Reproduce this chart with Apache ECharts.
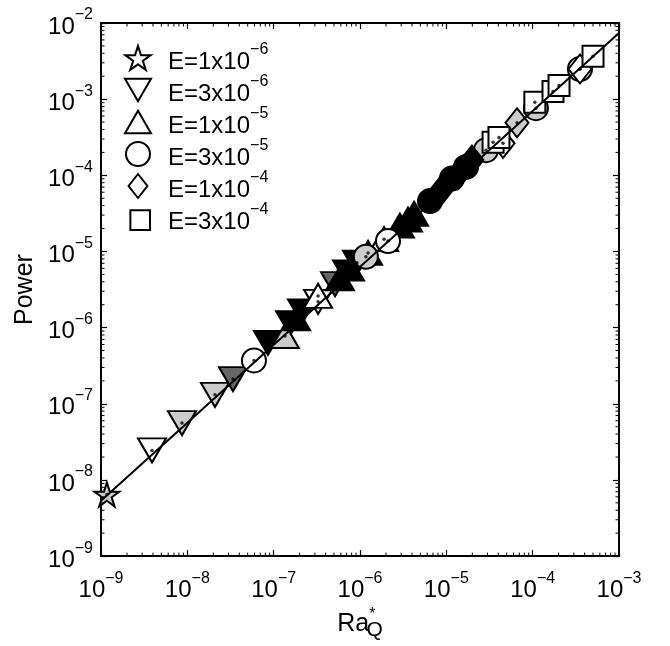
<!DOCTYPE html>
<html><head><meta charset="utf-8">
<script src="https://cdn.jsdelivr.net/npm/echarts@6/dist/echarts.min.js"></script>
<style>html,body{margin:0;padding:0;background:#fff}#c{width:670px;height:646px}</style>
</head><body><div id="c"></div>
<script>
// ---- tick labels (exponents of 10) ----
const xTickExps = [-9, -8, -7, -6, -5, -4, -3];
const yTickExps = [-9, -8, -7, -6, -5, -4, -3, -2];

// ---- legend labels ----
const legendMant = ['1', '3', '1', '3', '1', '3'];
const legendExp = ['−6', '−6', '−5', '−5', '−4', '−4'];

// ---- fill codes: w = white, l = light grey, d = dark grey, k = black ----
// E = 1x10^-6 (pentagram)
const e1e6X = [1.17e-9];
const e1e6Y = [6.44e-9];
const e1e6F = ['l'];
// E = 3x10^-6 (down triangle)
const e3e6X = [3.90e-9, 8.67e-9, 2.09e-8, 3.38e-8, 8.59e-8, 1.55e-7, 2.13e-7, 3.27e-7, 5.14e-7, 7.08e-7, 9.22e-7];
const e3e6Y = [2.44e-8, 5.58e-8, 1.31e-7, 2.11e-7, 6.31e-7, 1.14e-6, 1.63e-6, 2.18e-6, 3.72e-6, 5.31e-6, 7.13e-6];
const e3e6F = ['w', 'l', 'l', 'd', 'k', 'k', 'k', 'w', 'd', 'k', 'k'];
// E = 1x10^-5 (up triangle)
const e1e5X = [1.35e-7, 1.82e-7, 3.27e-7, 5.86e-7, 7.66e-7, 1.24e-6, 1.90e-6, 2.90e-6, 3.60e-6, 4.23e-6];
const e1e5Y = [7.76e-7, 1.32e-6, 2.61e-6, 4.45e-6, 5.97e-6, 9.57e-6, 1.45e-5, 2.19e-5, 2.62e-5, 3.13e-5];
const e1e5F = ['l', 'k', 'w', 'k', 'k', 'k', 'w', 'k', 'k', 'k'];
// E = 3x10^-5 (circle)
const e3e5X = [5.91e-8, 1.17e-6, 2.11e-6, 6.47e-6, 1.16e-5, 1.69e-5, 2.88e-5, 1.09e-4, 3.53e-4];
const e3e5Y = [3.71e-7, 8.51e-6, 1.37e-5, 4.59e-5, 9.08e-5, 1.29e-4, 2.14e-4, 7.62e-4, 2.49e-3];
const e3e5F = ['w', 'l', 'w', 'k', 'k', 'k', 'l', 'l', 'w'];
// E = 1x10^-4 (diamond)
const e1e4X = [8.91e-6, 1.36e-5, 1.98e-5, 4.54e-5, 6.59e-5, 3.53e-4];
const e1e4Y = [6.55e-5, 1.02e-4, 1.59e-4, 2.63e-4, 4.90e-4, 2.49e-3];
const e1e4F = ['k', 'k', 'k', 'w', 'l', 'w'];
// E = 3x10^-4 (square)
const e3e4X = [3.48e-5, 4.07e-5, 1.06e-4, 1.72e-4, 2.02e-4, 5.00e-4];
const e3e4Y = [2.71e-4, 3.14e-4, 9.10e-4, 1.26e-3, 1.51e-3, 3.66e-3];
const e3e4F = ['w', 'w', 'w', 'w', 'w', 'w'];

// ---- fitted power law line (end points) ----
const fitX = [1e-9, 1e-3];
const fitY = [5.32e-9, 7.38e-3];

// ---- minor tick multipliers ----
const minorMult = [2, 3, 4, 5, 6, 7, 8, 9];

const FONT = '"Liberation Sans", Arial, Helvetica, sans-serif';
const fillColors = { w: '#ffffff', l: '#cccccc', d: '#666666', k: '#000000' };

const STAR = 'path://M50,0 L61.23,34.55 L97.55,34.55 L68.16,55.9 L79.39,90.45 L50,69.1 L20.61,90.45 L31.84,55.9 L2.45,34.55 L38.77,34.55 Z';
const DTRI = 'path://M0,0 L30,0 L15,26 Z';
const UTRI = 'path://M15,0 L30,26 L0,26 Z';
const DIAM = 'path://M11,0 L22,14 L11,28 L0,14 Z';
const SQ_LEGEND = 'path://M0,0 M4,4 L22,4 L22,22 L4,22 Z';

const groups = [
  { x: e1e6X, y: e1e6Y, f: e1e6F, symbol: STAR, size: [25, 24] },
  { x: e3e6X, y: e3e6Y, f: e3e6F, symbol: DTRI, size: [28, 24] },
  { x: e1e5X, y: e1e5Y, f: e1e5F, symbol: UTRI, size: [28, 24] },
  { x: e3e5X, y: e3e5Y, f: e3e5F, symbol: 'circle', size: 24 },
  { x: e1e4X, y: e1e4Y, f: e1e4F, symbol: DIAM, size: [23, 29] },
  { x: e3e4X, y: e3e4Y, f: e3e4F, symbol: 'rect', size: 21 }
];
const seriesNames = legendMant.map((m, i) => 'E=' + m + 'x10^' + legendExp[i]);

const series = groups.map((g, i) => ({
  type: 'scatter',
  name: seriesNames[i],
  symbol: g.symbol,
  symbolSize: g.size,
  z: 2,
  silent: true,
  itemStyle: { color: '#ffffff', borderColor: '#000', borderWidth: 2, opacity: 1 },
  data: g.x.map((x, j) => ({ value: [x, g.y[j]], itemStyle: { color: fillColors[g.f[j]] } }))
}));

// centre dots
const allPts = [];
groups.forEach(g => g.x.forEach((x, j) => allPts.push([x, g.y[j]])));

series.push({
  type: 'line', name: 'fit', z: 3, silent: true, showSymbol: false,
  lineStyle: { color: '#000', width: 2 },
  data: fitX.map((x, i) => [x, fitY[i]])
});
series.push({
  type: 'scatter', name: 'dots', z: 4, silent: true, symbol: 'circle', symbolSize: 3.5,
  itemStyle: { color: '#000' }, data: allPts
});

const xMinor = [];
xTickExps.slice(0, -1).forEach(e => minorMult.forEach(k => xMinor.push([k * Math.pow(10, e), 1e-6])));
const yMinor = [];
yTickExps.slice(0, -1).forEach(e => minorMult.forEach(k => yMinor.push([1e-6, k * Math.pow(10, e)])));
const TL = 3.5;
series.push({
  type: 'custom', silent: true, z: 5, data: xMinor,
  renderItem: (params, api) => {
    const cs = params.coordSys;
    const x = api.coord([api.value(0), 1e-6])[0];
    const b = cs.y + cs.height;
    return { type: 'group', children: [
      { type: 'line', shape: { x1: x, y1: b, x2: x, y2: b - TL }, style: { stroke: '#000', lineWidth: 1 } },
      { type: 'line', shape: { x1: x, y1: cs.y, x2: x, y2: cs.y + TL }, style: { stroke: '#000', lineWidth: 1 } }
    ] };
  }
});
series.push({
  type: 'custom', silent: true, z: 5, data: yMinor,
  renderItem: (params, api) => {
    const cs = params.coordSys;
    const y = api.coord([1e-6, api.value(1)])[1];
    const r = cs.x + cs.width;
    return { type: 'group', children: [
      { type: 'line', shape: { x1: cs.x, y1: y, x2: cs.x + TL, y2: y }, style: { stroke: '#000', lineWidth: 1 } },
      { type: 'line', shape: { x1: r, y1: y, x2: r - TL, y2: y }, style: { stroke: '#000', lineWidth: 1 } }
    ] };
  }
});

const powRich = {
  b: { fontSize: 24, fontFamily: FONT, color: '#000', lineHeight: 32, verticalAlign: 'bottom' },
  s: { fontSize: 16, fontFamily: FONT, color: '#000', lineHeight: 14, verticalAlign: 'top' }
};
function expLabel(exps) {
  return v => {
    const e = Math.round(Math.log10(v));
    const idx = exps.indexOf(e);
    if (idx < 0) return '';
    return '{b|10}{s|−' + Math.abs(exps[idx]) + '}';
  };
}

const axisCommon = {
  type: 'log', logBase: 10,
  axisLine: { show: true, onZero: false, lineStyle: { color: '#000', width: 2 } },
  axisTick: { show: true, inside: true, length: 6, lineStyle: { color: '#000', width: 1.2 } },
  splitLine: { show: false },
  minorTick: { show: false }
};

const option = {
  animation: false,
  backgroundColor: '#fff',
  grid: { left: 101, top: 23, width: 518, height: 545, containLabel: false },
  legend: {
    orient: 'vertical', left: 119, top: 37,
    data: seriesNames.map((n, i) => (i === 5 ? { name: n, icon: SQ_LEGEND } : { name: n })),
    itemWidth: 26, itemHeight: 24, itemGap: 0,
    selectedMode: false,
    itemStyle: { color: '#fff', borderColor: '#000', borderWidth: 2 },
    formatter: name => {
      const i = seriesNames.indexOf(name);
      return '{b|E=' + legendMant[i] + 'x10}{s|' + legendExp[i] + '}';
    },
    textStyle: {
      padding: [0, 0, 0, 12],
      rich: {
        b: { fontSize: 24, fontFamily: FONT, color: '#000', lineHeight: 32, verticalAlign: 'bottom' },
        s: { fontSize: 16, fontFamily: FONT, color: '#000', lineHeight: 14, verticalAlign: 'top' }
      }
    }
  },
  xAxis: [
    Object.assign({}, axisCommon, {
      position: 'bottom', min: 1e-9, max: 1e-3, splitNumber: 6,
      axisLabel: { margin: 14, formatter: expLabel(xTickExps), rich: powRich },
      name: '{r|Ra}{st|*}{q|Q}', nameLocation: 'middle', nameGap: 42,
      nameTextStyle: {
        rich: {
          r: { fontSize: 25, fontFamily: FONT, color: '#000', lineHeight: 34, verticalAlign: 'middle' },
          st: { fontSize: 16, fontFamily: FONT, color: '#000', lineHeight: 14, verticalAlign: 'top', padding: [0, -9, 0, 0] },
          q: { fontSize: 21, fontFamily: FONT, color: '#000', lineHeight: 20, verticalAlign: 'bottom' }
        }
      }
    }),
    Object.assign({}, axisCommon, {
      position: 'top', min: 1e-9, max: 1e-3, splitNumber: 6,
      axisLabel: { show: false }
    })
  ],
  yAxis: [
    Object.assign({}, axisCommon, {
      position: 'left', min: 1e-9, max: 1e-2, splitNumber: 7,
      axisLabel: { margin: 8, formatter: expLabel(yTickExps), rich: powRich },
      name: 'Power', nameLocation: 'middle', nameGap: 63, nameRotate: 90,
      nameTextStyle: { fontSize: 25, fontFamily: FONT, color: '#000' }
    }),
    Object.assign({}, axisCommon, {
      position: 'right', min: 1e-9, max: 1e-2, splitNumber: 7,
      axisLabel: { show: false }
    })
  ],
  series: series
};

const chart = echarts.init(document.getElementById('c'), null, { renderer: 'canvas' });
chart.setOption(option);
</script>
</body></html>
